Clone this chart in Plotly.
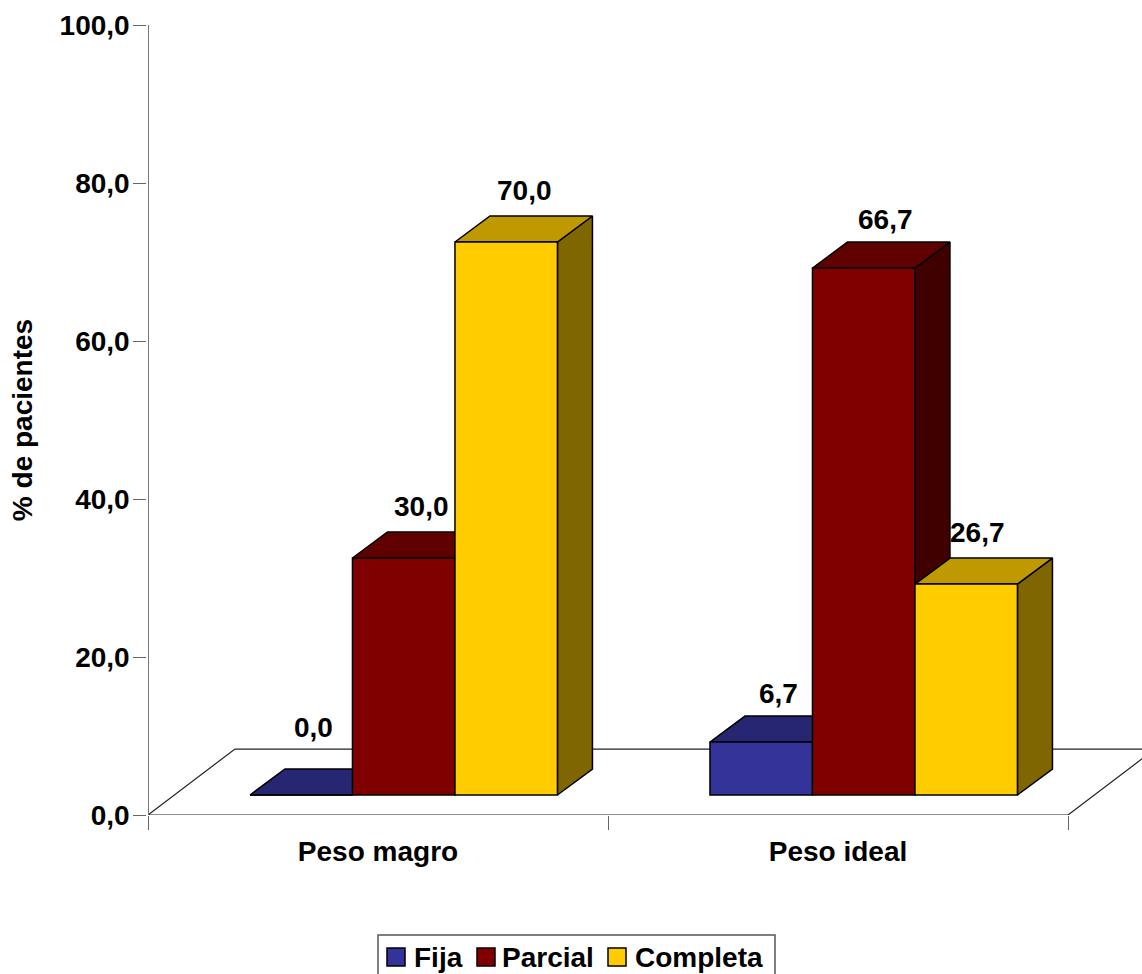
import plotly.graph_objects as go

# Chart data
categories = ["Peso magro", "Peso ideal"]
series_names = ["Fija", "Parcial", "Completa"]
fija = [0.0, 6.7]
parcial = [30.0, 66.7]
completa = [70.0, 26.7]
series_values = [fija, parcial, completa]
y_ticks = [0, 20, 40, 60, 80, 100]
y_tick_labels = ["0,0", "20,0", "40,0", "60,0", "80,0", "100,0"]

# Face colours per series: front, top, side
front_colors = ["#333399", "#800000", "#FFCC00"]
top_colors = ["#262673", "#600000", "#BF9900"]
side_colors = ["#1A1A4D", "#400000", "#806600"]

# Pseudo-3D geometry in axis units
PLOT_L, PLOT_T, PLOT_W, PLOT_H = 148, 25, 994, 790
X_MAX = PLOT_W / 460
BAR_START = 0.2217
BAR_W = 0.2228
BASE = 2.53
DEPTH_X, DEPTH_Y = 0.0761, 3.29
FLOOR_X, FLOOR_Y = 0.189, 8.35

# Pixel nudges of the value labels per series and category
label_dx = [[12, 17], [18, 22], [18, 11]]
label_dy = [[-68, -49], [-52, -49], [-52, -52]]

# Legend layout in page pixels
LEGEND_BOX = (378, 935, 775, 985)
LEGEND_SWATCH_X = [387, 477, 608]
LEGEND_TEXT_X = [413, 501, 634]
LEGEND_SWATCH_SIZE = 18
LEGEND_MID_Y = 957

FONT = "Liberation Sans"
SIZE = 28
bold = dict(family=FONT, size=SIZE, color="black", weight="bold")
EDGE = dict(color="black", width=1.5)


def paper_x(px):
    return (px - PLOT_L) / PLOT_W


def paper_y(py):
    return (PLOT_T + PLOT_H - py) / PLOT_H


fig = go.Figure()

# Floor of the chart; its front edge is the category axis line
fig.add_trace(go.Scatter(
    x=[0, 2, 2 + FLOOR_X, FLOOR_X, 0],
    y=[0, 0, FLOOR_Y, FLOOR_Y, 0],
    mode="lines", fill="toself", fillcolor="white",
    line=dict(color="#222222", width=1.2),
    hoverinfo="skip", showlegend=False, cliponaxis=False, zorder=0,
))

# Value axis line, left unclipped so its full width shows
fig.add_trace(go.Scatter(
    x=[0, 0], y=[y_ticks[0], y_ticks[-1]], mode="lines",
    line=dict(color="#777777", width=2),
    hoverinfo="skip", showlegend=False, cliponaxis=False, zorder=0,
))

annotations = []
for s, (name, values) in enumerate(zip(series_names, series_values)):
    side_x, side_y, top_x, top_y, centers = [], [], [], [], []
    for c, v in enumerate(values):
        off = BAR_START + BAR_W * s
        x0 = c + off
        x1 = x0 + BAR_W
        h = BASE + v
        centers.append((x0 + x1) / 2)
        side_x += [x1, x1 + DEPTH_X, x1 + DEPTH_X, x1, x1, None]
        side_y += [BASE, BASE + DEPTH_Y, h + DEPTH_Y, h, BASE, None]
        top_x += [x0, x1, x1 + DEPTH_X, x0 + DEPTH_X, x0, None]
        top_y += [h, h, h + DEPTH_Y, h + DEPTH_Y, h, None]
        annotations.append(dict(
            x=centers[-1], y=h, xref="x", yref="y",
            text=f"{v:.1f}".replace(".", ","), showarrow=False,
            xshift=label_dx[s][c], yshift=-label_dy[s][c],
            xanchor="center", yanchor="middle", font=bold,
        ))
    z = 2 * s + 1
    fig.add_trace(go.Scatter(
        x=side_x, y=side_y, mode="lines", fill="toself",
        fillcolor=side_colors[s], line=EDGE, hoverinfo="skip",
        showlegend=False, cliponaxis=False, zorder=z,
    ))
    fig.add_trace(go.Scatter(
        x=top_x, y=top_y, mode="lines", fill="toself",
        fillcolor=top_colors[s], line=EDGE, hoverinfo="skip",
        showlegend=False, cliponaxis=False, zorder=z,
    ))
    fig.add_trace(go.Bar(
        x=centers, y=values, base=BASE, width=BAR_W,
        marker=dict(color=front_colors[s], line=EDGE),
        name=name, showlegend=False, cliponaxis=False, zorder=z + 1,
    ))

# Boxed legend along the bottom edge of the page
shapes = []
box_l, box_t, box_r, box_b = LEGEND_BOX
shapes.append(dict(
    type="rect", xref="paper", yref="paper",
    x0=paper_x(box_l), x1=paper_x(box_r),
    y0=paper_y(box_b), y1=paper_y(box_t),
    fillcolor="white", line=dict(color="#555555", width=1.5), layer="above",
))
half = LEGEND_SWATCH_SIZE / 2
for name, color, sx, tx in zip(series_names, front_colors,
                               LEGEND_SWATCH_X, LEGEND_TEXT_X):
    shapes.append(dict(
        type="rect", xref="paper", yref="paper",
        x0=paper_x(sx), x1=paper_x(sx + LEGEND_SWATCH_SIZE),
        y0=paper_y(LEGEND_MID_Y + half), y1=paper_y(LEGEND_MID_Y - half),
        fillcolor=color, line=dict(color="black", width=1.5), layer="above",
    ))
    annotations.append(dict(
        x=paper_x(tx), y=paper_y(LEGEND_MID_Y), xref="paper", yref="paper",
        text=name, showarrow=False, xanchor="left", yanchor="middle",
        borderpad=0, font=bold,
    ))

fig.update_layout(
    width=1142, height=974,
    margin=dict(l=PLOT_L, r=0, t=PLOT_T, b=974 - PLOT_T - PLOT_H, autoexpand=False),
    paper_bgcolor="white", plot_bgcolor="white",
    barmode="overlay",
    font=bold,
    annotations=annotations,
    shapes=shapes,
    showlegend=False,
    xaxis=dict(
        range=[0, X_MAX], showgrid=False, zeroline=False, showline=False,
        tickmode="array", tickvals=[0.5, 1.5], ticktext=categories,
        ticks="", ticklabelstandoff=17, tickfont=bold,
        minor=dict(tickmode="array", tickvals=[0, 1, 2], ticks="outside",
                   ticklen=14, tickcolor="#666666", tickwidth=1.3,
                   showgrid=False),
    ),
    yaxis=dict(
        range=[0, 100], showgrid=False, zeroline=False,
        showline=True, linecolor="#808080", linewidth=1.5,
        tickmode="array", tickvals=y_ticks, ticktext=y_tick_labels,
        ticks="outside", ticklen=13, tickcolor="#666666", tickwidth=1.3,
        ticklabelstandoff=-2, tickfont=bold,
        title=dict(text="% de pacientes", font=bold, standoff=19),
    ),
)

fig.write_html("out.html", config={"displayModeBar": False})
